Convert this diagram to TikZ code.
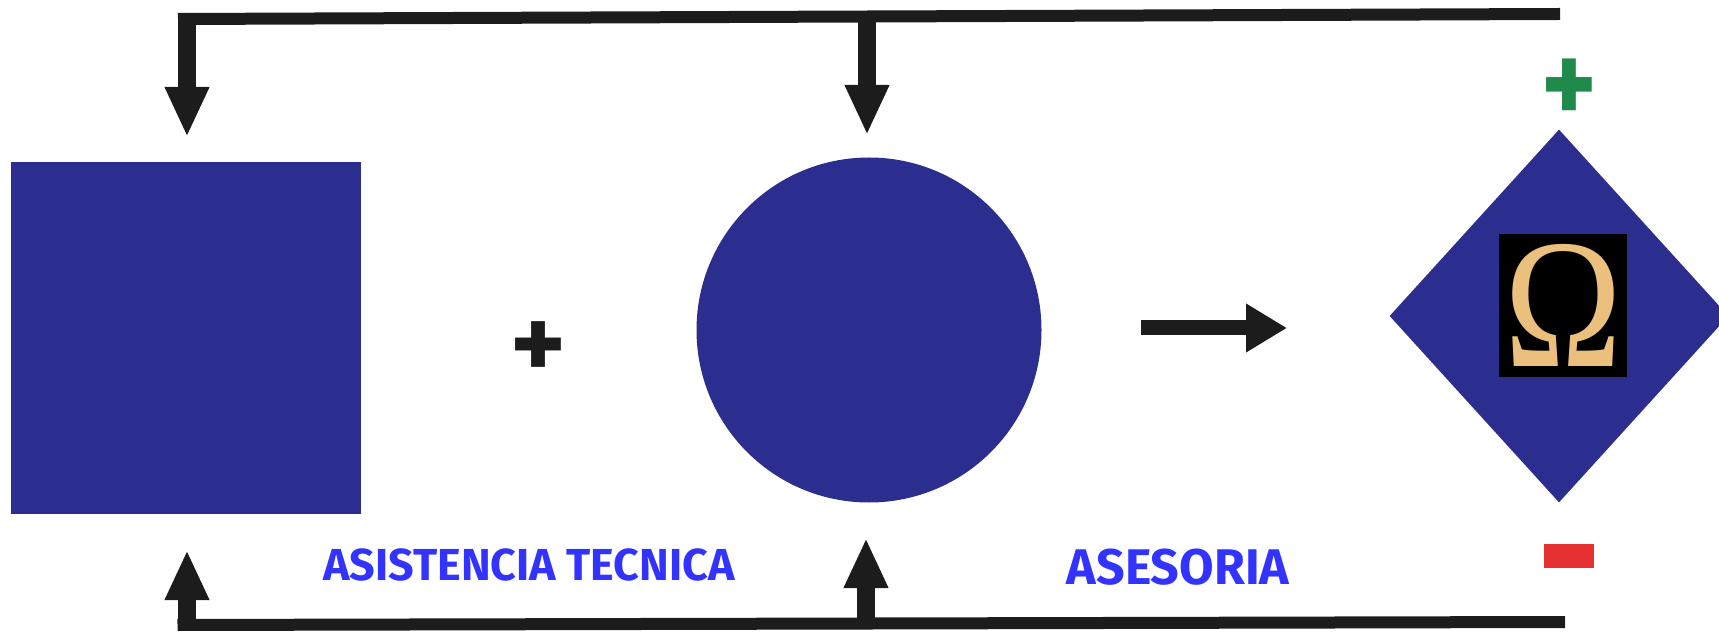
\documentclass[tikz,border=0pt]{standalone}
\usepackage{amsmath,amssymb}
\usepackage{fontspec}
\setmainfont{Fira Sans}
\newfontfamily\omegafont{Liberation Serif}
\usepackage{tikz}
\usetikzlibrary{arrows.meta,shapes.geometric}
\usepackage{xcolor}
\definecolor{figblue}{HTML}{2B2E8F}
\definecolor{inkblack}{HTML}{1C1C1C}
\definecolor{textblue}{HTML}{3333FF}
\definecolor{omegagold}{HTML}{EBC07C}
\definecolor{plusgreen}{HTML}{1F8A4A}
\definecolor{minusred}{HTML}{E53131}

\tikzset{
  figshape/.style={fill=figblue,draw=none,inner sep=0pt},
  wire/.style={draw=inkblack,line width=2.4mm},
  feed/.style={draw=inkblack,line width=3.5mm,-{Triangle[width=8.2mm,length=10mm]}},
  caption/.style={text=textblue,inner sep=0pt},
}

\begin{document}
\begin{tikzpicture}[>=Stealth]
\clip (0,0) rectangle (34.38,12.64);
\useasboundingbox (0,0) rectangle (34.38,12.64);

\node[figshape,rectangle,minimum width=7cm,minimum height=7.04cm] (SQ) at (3.72,5.88) {};
\node[figshape,circle,minimum size=6.9cm] (CI) at (17.38,6.04) {};
\node[figshape,diamond,aspect=0.904,minimum width=6.78cm,minimum height=7.46cm] (DI) at (31.18,6.32) {};
\node[fill=black,inner sep=0pt,minimum width=2.56cm,minimum height=2.86cm] (OM) at (31.26,6.53) {};
\node[text=omegagold,xscale=0.86,inner sep=0pt,font=\omegafont\fontsize{105}{105}\selectfont] (OMT) at (OM.center) {Ω};

\node[text=inkblack,font=\bfseries\fontsize{60}{60}\selectfont,inner sep=0pt] (PL) at (10.76,5.63) {+};
\node[text=plusgreen,xscale=0.88,font=\bfseries\fontsize{68}{68}\selectfont,inner sep=0pt] (PG) at (31.38,10.81) {+};
\node[fill=minusred,inner sep=0pt,minimum width=1cm,minimum height=4.8mm] (MN) at (31.38,1.52) {};

\node[caption,font=\bfseries\fontsize{25.5}{25.5}\selectfont] (AT) at (10.58,1.34) {ASISTENCIA TECNICA};
\node[caption,font=\bfseries\fontsize{28.5}{28.5}\selectfont] (AS) at (23.56,1.30) {ASESORIA};

% top feedback
\coordinate (TR) at (31.2,12.36);
\coordinate (TL) at (3.56,12.26);
\coordinate (TM) at (17.34,12.3);
\coordinate (TA) at (3.74,12.38);
\coordinate (TB) at (3.74,9.9);
\coordinate (TC) at (17.34,9.94);
\draw[wire] (TR) -- (TL);
\draw[feed] (TA) -- (TB);
\draw[feed] (TM) -- (TC);

% bottom feedback
\coordinate (BR) at (31.3,0.2);
\coordinate (BL) at (3.55,0.14);
\coordinate (BM) at (17.32,0.17);
\coordinate (BA) at (3.74,0.02);
\coordinate (BB) at (3.74,1.64);
\coordinate (BC) at (17.32,1.88);
\draw[wire] (BR) -- (BL);
\draw[feed] (BA) -- (BB);
\draw[feed] (BM) -- (BC);

% middle arrow
\coordinate (MA) at (22.82,6.08);
\coordinate (MB) at (25.74,6.08);
\draw[draw=inkblack,line width=3mm,-{Triangle[width=9.2mm,length=8.2mm]}] (MA) -- (MB);
\end{tikzpicture}
\end{document}
